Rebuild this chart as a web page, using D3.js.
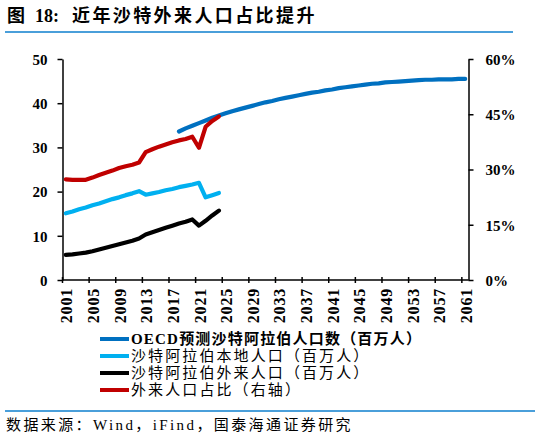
<!DOCTYPE html>
<html><head><meta charset="utf-8">
<script src="https://cdn.jsdelivr.net/npm/d3@7"></script>
<style>
body{margin:0;background:#fff;}
svg{display:block;}
text{font-family:"Liberation Serif","Noto Sans CJK SC",serif;}
</style></head>
<body><svg id="c" width="538" height="439"></svg>
<script>
const years = d3.range(2001, 2062);
const tickYears = d3.range(2001, 2062, 4);
const histYears = d3.range(2001, 2025);
const oecdYears = d3.range(2018, 2062);
const oecdPop = [33.6,34.3,34.9,35.5,36.1,36.7,37.2,37.7,38.2,38.6,39.0,39.4,39.8,40.2,40.5,40.9,41.2,41.5,41.8,42.1,42.4,42.6,42.9,43.1,43.4,43.6,43.8,44.0,44.2,44.4,44.5,44.7,44.8,44.9,45.0,45.1,45.2,45.3,45.3,45.4,45.4,45.4,45.5,45.5];
const localPop = [15.1,15.5,16.0,16.4,16.9,17.3,17.8,18.3,18.7,19.2,19.6,20.1,19.3,19.6,19.9,20.3,20.6,21.0,21.3,21.6,22.0,18.7,19.2,19.7];
const foreignPop = [5.7,5.8,6.0,6.2,6.5,6.9,7.3,7.7,8.1,8.5,8.9,9.4,10.3,10.8,11.3,11.8,12.3,12.8,13.2,13.7,12.3,13.4,14.6,15.7];
const foreignShare = [27.3,27.2,27.2,27.2,27.8,28.5,29.1,29.7,30.4,30.9,31.3,31.9,34.7,35.5,36.2,36.8,37.4,37.9,38.3,38.9,35.9,41.6,43.2,44.4];
const leftTicks = [0,10,20,30,40,50];
const rightTicks = [0,15,30,45,60];
const legendLabels = ["OECD预测沙特阿拉伯人口数（百万人）","沙特阿拉伯本地人口（百万人）","沙特阿拉伯外来人口（百万人）","外来人口占比（右轴）"];
const colors = ["#0070C0","#00B0F0","#000000","#C00000"];

const svg = d3.select("#c");
// title
svg.append("text").attr("x",7).attr("y",22).attr("font-size",18).attr("font-weight","bold").text("图");
svg.append("text").attr("x",35).attr("y",22).attr("font-size",18).attr("font-weight","bold").text("18:");
svg.append("text").attr("x",72).attr("y",22).attr("font-size",18).attr("font-weight","bold").attr("letter-spacing",2.4).text("近年沙特外来人口占比提升");
svg.append("line").attr("x1",5).attr("x2",513).attr("y1",32).attr("y2",32).attr("stroke","#4A9FDA").attr("stroke-width",2);

const x = d3.scaleBand().domain(years).range([62.5,468.5]).padding(0);
const cx = y => x(y) + x.bandwidth()/2;
const yL = d3.scaleLinear().domain([0,50]).range([280,59]);
const yR = d3.scaleLinear().domain([0,60]).range([280,59]);

const g = svg.append("g");
// axes
const axL = g.append("g").attr("transform","translate(62.5,0)").call(d3.axisLeft(yL).tickValues(leftTicks).tickSize(5).tickPadding(10).tickSizeOuter(0));
const axR = g.append("g").attr("transform","translate(468.5,0)").call(d3.axisRight(yR).tickValues(rightTicks).tickSize(5).tickPadding(12).tickFormat(d=>d+"%").tickSizeOuter(0));
[axL,axR].forEach(a=>{a.select(".domain").attr("stroke","#000").attr("stroke-width",1.5);a.selectAll(".tick line").attr("stroke","#000").attr("stroke-width",1.5);a.selectAll("text").attr("font-size",15).attr("font-weight","bold").attr("fill","#000").style("font-family","Liberation Serif");});
axL.selectAll(".tick text").attr("dy","0.35em");
axR.selectAll(".tick text").attr("dy","0.35em");

// x axis
const axX = g.append("g").attr("transform","translate(0,280)");
axX.append("line").attr("x1",62.5).attr("x2",468.5).attr("stroke","#000").attr("stroke-width",1.5);
axX.selectAll("line.t").data(tickYears).join("line").attr("class","t")
  .attr("x1",d=>x(d)).attr("x2",d=>x(d)).attr("y1",-3).attr("y2",3).attr("stroke","#000").attr("stroke-width",1.5);
axX.selectAll("text").data(tickYears).join("text")
  .attr("transform",d=>`translate(${cx(d)+1},8) rotate(-90)`)
  .attr("text-anchor","end").attr("dy","0.35em").attr("font-size",16).attr("font-weight","bold").attr("letter-spacing",0.8)
  .style("font-family","Liberation Serif").text(d=>d);

// lines
const lineL = d3.line().x(d=>cx(d[0])).y(d=>yL(d[1]));
const lineR = d3.line().x(d=>cx(d[0])).y(d=>yR(d[1]));
const series = [
  {data: oecdYears.map((y,i)=>[y,oecdPop[i]]), gen: lineL, color: colors[0]},
  {data: histYears.map((y,i)=>[y,localPop[i]]), gen: lineL, color: colors[1]},
  {data: histYears.map((y,i)=>[y,foreignPop[i]]), gen: lineL, color: colors[2]},
  {data: histYears.map((y,i)=>[y,foreignShare[i]]), gen: lineR, color: colors[3]}
];
g.selectAll("path.s").data(series).join("path").attr("class","s")
  .attr("d",s=>s.gen(s.data)).attr("fill","none").attr("stroke",s=>s.color)
  .attr("stroke-width",4.2).attr("stroke-linejoin","round").attr("stroke-linecap","round");

// legend
const lg = svg.append("g");
const ly = [339,356,373,390];
legendLabels.forEach((t,i)=>{
  lg.append("line").attr("x1",100).attr("x2",129).attr("y1",ly[i]).attr("y2",ly[i]).attr("stroke",colors[i]).attr("stroke-width",4);
  lg.append("text").attr("x",131).attr("y",ly[i]).attr("dy","0.36em").attr("font-size",15).attr("letter-spacing",i===0?1.2:2.1)
    .attr("font-weight",i===0?"bold":"normal").text(t);
});

// source
svg.append("line").attr("x1",5).attr("x2",535).attr("y1",411).attr("y2",411).attr("stroke","#4A9FDA").attr("stroke-width",2);
svg.append("text").attr("x",6).attr("y",430).attr("font-size",15).attr("letter-spacing",2.4).text("数据来源：Wind，iFind，国泰海通证券研究");
</script></body></html>
